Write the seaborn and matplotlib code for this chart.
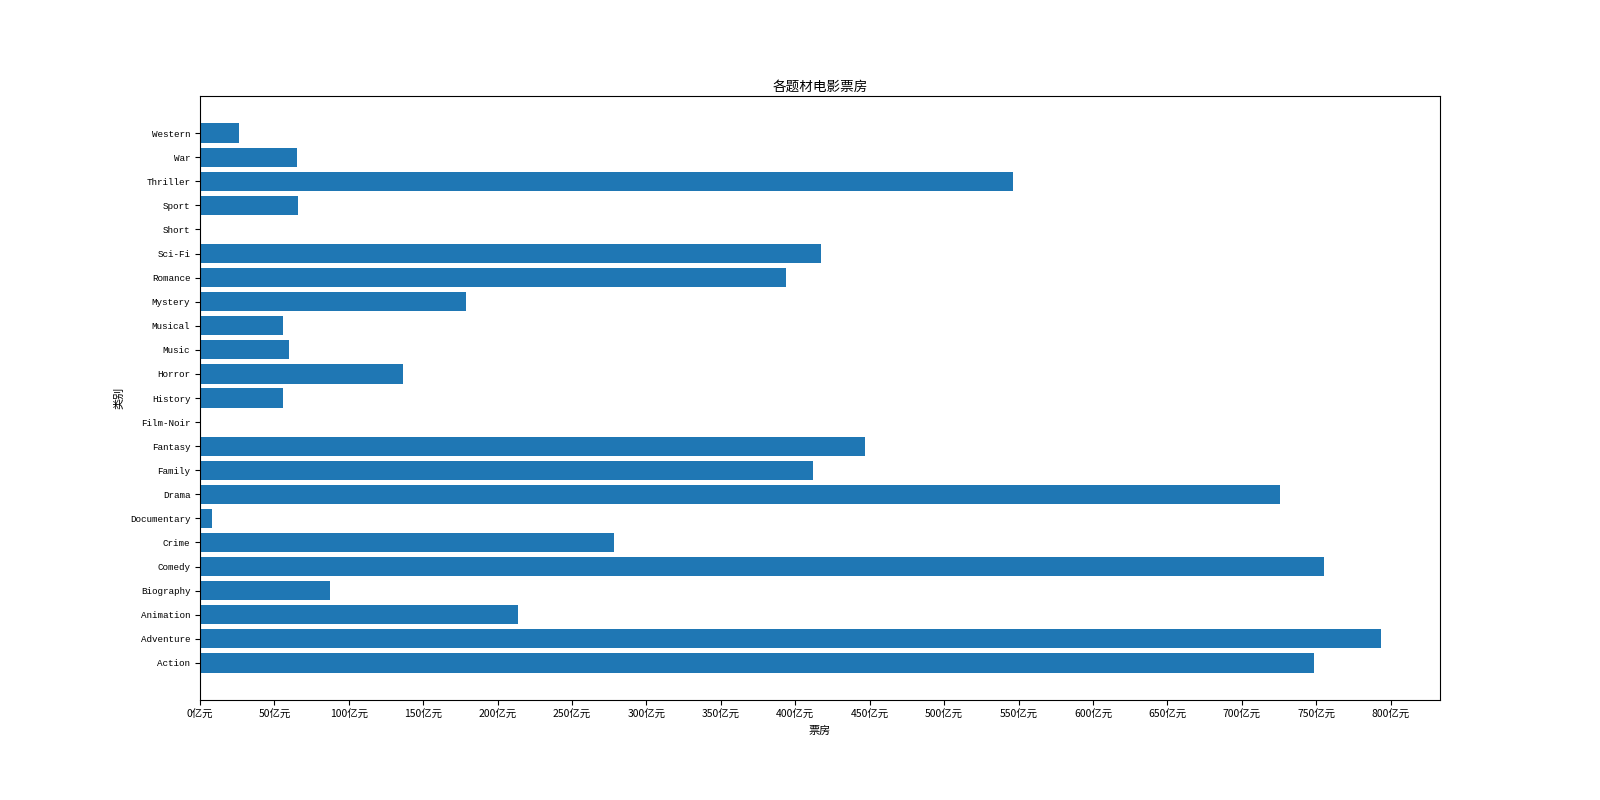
import matplotlib
matplotlib.use('Agg')
import matplotlib.pyplot as plt
import seaborn as sns
import pandas as pd

plt.rcParams['font.family'] = ['Noto Sans CJK SC', 'DejaVu Sans']
plt.rcParams['font.size'] = 7.5
plt.rcParams['axes.unicode_minus'] = False

# box office per genre (亿元)
genres = ['Action', 'Adventure', 'Animation', 'Biography', 'Comedy', 'Crime',
          'Documentary', 'Drama', 'Family', 'Fantasy', 'Film-Noir', 'History',
          'Horror', 'Music', 'Musical', 'Mystery', 'Romance', 'Sci-Fi',
          'Short', 'Sport', 'Thriller', 'War', 'Western']
box_office = [748.4, 793.5, 214, 87.3, 755.2, 278,
              7.8, 725.6, 412, 447, 0, 55.5,
              136.4, 59.6, 55.5, 179, 394, 417,
              0, 65.6, 546, 65.0, 26.2]
x_ticks = list(range(0, 801, 50))

df = pd.DataFrame({'genre': genres, 'box_office': box_office})

fig, ax = plt.subplots(figsize=(16, 8), dpi=100)
fig.subplots_adjust(left=0.125, right=0.9, top=0.88, bottom=0.125)

# seaborn puts the first category on top, so reverse to keep Action at the bottom
sns.barplot(data=df, x='box_office', y='genre', order=genres[::-1],
            orient='h', color='#1f77b4', saturation=1, width=0.8, ax=ax)

n = len(genres)
pad = 0.05 * (n - 1 + 0.8)
ax.set_ylim(n - 1 + 0.4 + pad, -0.4 - pad)

ax.set_xticks(x_ticks)
ax.set_xticklabels([f'{t}亿元' for t in x_ticks])
for lbl in ax.get_yticklabels():
    lbl.set_family(['Liberation Mono', 'DejaVu Sans Mono'])
    lbl.set_fontsize(6.7)

ax.set_title('各题材电影票房', fontsize=9.8, pad=4)
ax.set_xlabel('票房', fontsize=8)
ax.set_ylabel('类别', fontsize=8)

plt.savefig('out.png', dpi=100)
plt.close()
